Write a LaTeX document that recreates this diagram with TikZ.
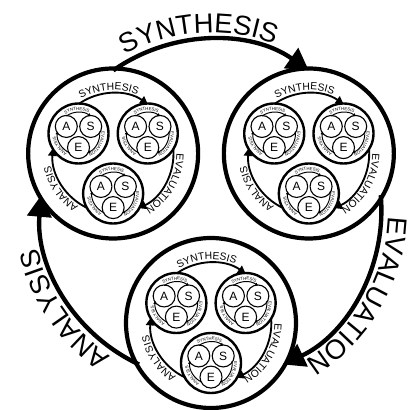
\documentclass[tikz,border=0pt]{standalone}
\usepackage{fontspec}
\setmainfont{Liberation Sans}
\usetikzlibrary{arrows.meta,decorations.text}

\tikzset{
  ring/.style={draw, line width=#1},
  flow/.style={line width=#1, -{Triangle[length=\tipsize pt, width=\tipwide pt]}},
  letter/.style={circle, draw, line width=1.1pt, minimum size=22pt, inner sep=0pt,
    font=\fontsize{12}{12}\selectfont}
}

\newcommand{\wordfont}{\fontsize{\fsize}{\fsize}\selectfont}

% arcs and words of one cycle: centre #1,#2 and radius #3
\newcommand{\cyclearcs}[3]{%
  \pgfmathsetmacro{\arcr}{0.71*#3}%
  \pgfmathsetmacro{\wordr}{0.735*#3+1}%
  \pgfmathsetmacro{\fsize}{0.11*#3+1}%
  \pgfmathsetmacro{\arcw}{0.5+0.016*#3}%
  \pgfmathsetmacro{\tipsize}{0.09*#3}%
  \pgfmathsetmacro{\tipwide}{0.1*#3}%
  \foreach \k/\word/\mid in {0/SYNTHESIS/94,1/EVALUATION/-30,2/ANALYSIS/214}{%
    \pgfmathsetmacro{\sa}{125-120*\k}%
    \pgfmathsetmacro{\ea}{55-120*\k}%
    \pgfmathsetmacro{\ta}{\mid+45}%
    \pgfmathsetmacro{\tb}{\mid-45}%
    \draw[shift={(#1,#2)}, flow=\arcw pt] (\sa:\arcr pt)
      arc[start angle=\sa, end angle=\ea, radius=\arcr pt];
    \path[shift={(#1,#2)}, decorate, decoration={text along path, text align=center,
      text/.expanded={|\noexpand\wordfont|\word}}] (\ta:\wordr pt)
      arc[start angle=\ta, end angle=\tb, radius=\wordr pt];
  }%
}

\begin{document}
\begin{tikzpicture}[x=1pt, y=1pt]
  \useasboundingbox (0,0) rectangle (409,410);

  % Outer cycle
  \cyclearcs{211}{200}{240}

  % Big circles
  \foreach \a in {150,30,270}{
    \pgfmathsetmacro{\bx}{211+113*cos(\a)}
    \pgfmathsetmacro{\by}{200+113*sin(\a)}
    \draw[ring=4.2pt] (\bx,\by) circle[radius=85pt];
    \cyclearcs{\bx}{\by}{85}

    % Middle circles
    \foreach \b in {150,30,270}{
      \pgfmathsetmacro{\mx}{\bx+40*cos(\b)}
      \pgfmathsetmacro{\my}{\by+40*sin(\b)}
      \draw[ring=2.4pt] (\mx,\my) circle[radius=30pt];
      \cyclearcs{\mx}{\my}{30}

      % Letters
      \foreach \c/\name in {150/A,30/S,270/E}{
        \node[letter] (l\a-\b-\name) at ([shift={(\c:14.1pt)}]\mx,\my) {\name};
      }
    }
  }
\end{tikzpicture}
\end{document}
